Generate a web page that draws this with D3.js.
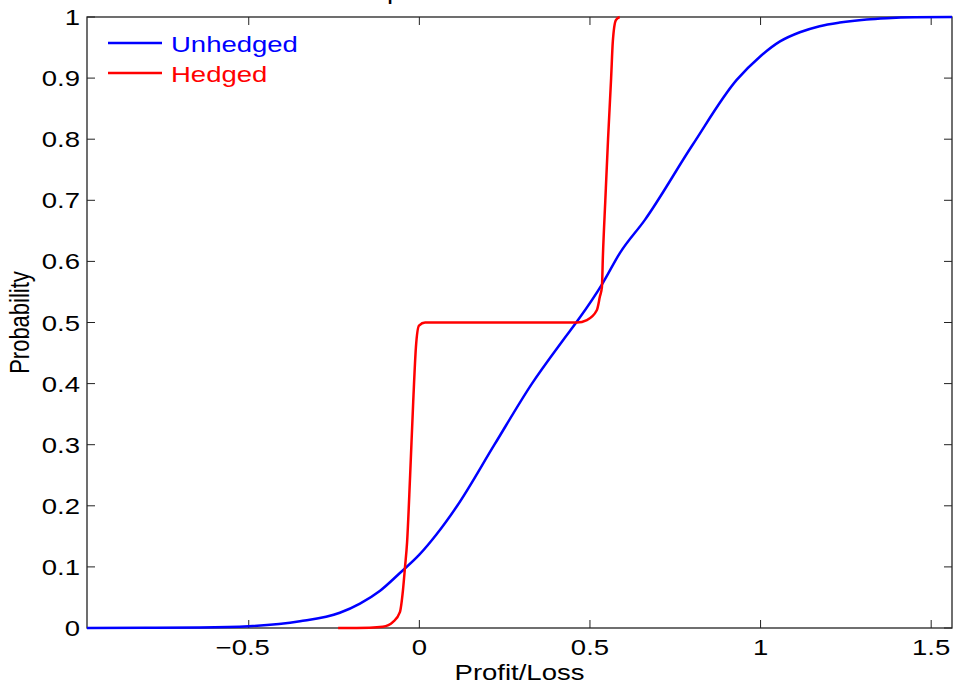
<!DOCTYPE html>
<html>
<head>
<meta charset="utf-8">
<script src="https://cdn.jsdelivr.net/npm/d3@7"></script>
<style>
  body { margin: 0; background: #fff; }
  text { font-family: "Liberation Sans", Arial, Helvetica, sans-serif; }
</style>
</head>
<body>
<script>
var w = 956;
var h = 687;

// data
var unhedgedX = [-0.974, -0.8, -0.643, -0.5, -0.35, -0.233, -0.174, -0.115, -0.057, 0.0, 0.05, 0.111, 0.22, 0.33, 0.421, 0.465, 0.538, 0.588, 0.661, 0.8, 0.93, 0.998, 1.057, 1.115, 1.173, 1.232, 1.311, 1.37, 1.45, 1.561];
var unhedgedP = [0, 0.0005, 0.001, 0.003, 0.011, 0.025, 0.04, 0.061, 0.09, 0.12, 0.153, 0.2, 0.3, 0.4, 0.471, 0.504, 0.565, 0.614, 0.668, 0.79, 0.897, 0.935, 0.96, 0.975, 0.985, 0.991, 0.996, 0.998, 0.9995, 1.0];

var hedgedX = [-0.238, -0.145, -0.107, -0.077, -0.057, -0.048, -0.042, -0.036, -0.027, -0.018, -0.010, -0.001, 0.017, 0.462, 0.491, 0.520, 0.529, 0.535, 0.538, 0.545, 0.553, 0.562, 0.567, 0.576, 0.587];
var hedgedP = [0, 0.0005, 0.002, 0.01, 0.026, 0.062, 0.1, 0.14, 0.25, 0.37, 0.46, 0.495, 0.5, 0.5, 0.504, 0.52, 0.542, 0.558, 0.61, 0.7, 0.8, 0.9, 0.96, 0.995, 1];

var xTicks = [-0.5, 0, 0.5, 1, 1.5];
var yTicks = [0, 0.1, 0.2, 0.3, 0.4, 0.5, 0.6, 0.7, 0.8, 0.9, 1];

var seriesNames = ["Unhedged", "Hedged"];
var seriesColors = ["#0000ff", "#ff0000"];

// plot box (window.top is taken, so own names)
var boxL = 87, boxR = 952, boxT = 17, boxB = 628;
var tickLen = 8;
var fs = 22;       // font size
var sx = 1.25;     // the figure looks stretched sideways, text too

var x = d3.scaleLinear().domain([-0.974, 1.561]).range([boxL, boxR]);
var y = d3.scaleLinear().domain([0, 1]).range([boxB, boxT]);

var svg = d3.select("body").append("svg")
    .attr("width", w)
    .attr("height", h);

svg.append("defs").append("clipPath").attr("id", "plotclip")
    .append("rect")
    .attr("x", boxL).attr("y", boxT - 2)
    .attr("width", boxR - boxL + 1).attr("height", boxB - boxT + 4);

function stretched(px, py) {
    return "translate(" + px + "," + py + ") scale(" + sx + ",1)";
}

// title, mostly cut off at the top edge
svg.append("text")
    .attr("transform", stretched((boxL + boxR) / 2 + 28, -1))
    .attr("text-anchor", "middle")
    .attr("font-size", fs)
    .text("Empirical Cumulative Distribution");

var fmt = function(d) { return d < 0 ? "\u2212" + Math.abs(d) : String(d); };

var axes = svg.append("g").attr("id", "axes");

// matlab style ticks: inside, on all four sides
axes.selectAll("line.xb").data(xTicks).enter().append("line")
    .attr("x1", function(d) { return x(d); }).attr("x2", function(d) { return x(d); })
    .attr("y1", boxB).attr("y2", boxB - tickLen)
    .attr("stroke", "#222").attr("stroke-width", 1);
axes.selectAll("line.xt").data(xTicks).enter().append("line")
    .attr("x1", function(d) { return x(d); }).attr("x2", function(d) { return x(d); })
    .attr("y1", boxT).attr("y2", boxT + tickLen)
    .attr("stroke", "#222").attr("stroke-width", 1);
axes.selectAll("line.yl").data(yTicks).enter().append("line")
    .attr("x1", boxL).attr("x2", boxL + tickLen)
    .attr("y1", function(d) { return y(d); }).attr("y2", function(d) { return y(d); })
    .attr("stroke", "#222").attr("stroke-width", 1);
axes.selectAll("line.yr").data(yTicks).enter().append("line")
    .attr("x1", boxR).attr("x2", boxR - tickLen)
    .attr("y1", function(d) { return y(d); }).attr("y2", function(d) { return y(d); })
    .attr("stroke", "#222").attr("stroke-width", 1);

axes.selectAll("text.xl").data(xTicks).enter().append("text")
    .attr("transform", function(d) { return stretched(x(d) - (d < 0 ? 6 : 0), 655); })
    .attr("text-anchor", "middle")
    .attr("font-size", fs)
    .text(fmt);

axes.selectAll("text.yl").data(yTicks).enter().append("text")
    .attr("transform", function(d) { return stretched(80, y(d) + 8); })
    .attr("text-anchor", "end")
    .attr("font-size", fs)
    .text(fmt);

// box
axes.append("rect")
    .attr("x", boxL).attr("y", boxT)
    .attr("width", boxR - boxL).attr("height", boxB - boxT)
    .attr("fill", "none")
    .attr("stroke", "#222")
    .attr("stroke-width", 1.3);

// axis labels
svg.append("text")
    .attr("transform", stretched((boxL + boxR) / 2, 680))
    .attr("text-anchor", "middle")
    .attr("font-size", fs)
    .text("Profit/Loss");

svg.append("text")
    .attr("transform", stretched(29, (boxT + boxB) / 2) + " rotate(-90)")
    .attr("text-anchor", "middle")
    .attr("font-size", fs)
    .text("Probability");

// curves
var line = d3.line()
    .x(function(d) { return x(d[0]); })
    .y(function(d) { return y(d[1]); })
    .curve(d3.curveMonotoneX);

var series = [
    d3.zip(unhedgedX, unhedgedP),
    d3.zip(hedgedX, hedgedP)
];

svg.append("g").attr("clip-path", "url(#plotclip)")
    .selectAll("path")
    .data(series)
    .enter()
    .append("path")
    .attr("d", line)
    .attr("fill", "none")
    .attr("stroke", function(d, i) { return seriesColors[i]; })
    .attr("stroke-width", 2.5)
    .attr("stroke-linejoin", "round");

// legend
var legend = svg.append("g").attr("id", "legend");
var legendRows = legend.selectAll("g")
    .data(seriesNames)
    .enter()
    .append("g")
    .attr("transform", function(d, i) { return "translate(108," + (43 + i * 30) + ")"; });

legendRows.append("line")
    .attr("x1", 0).attr("x2", 54)
    .attr("y1", 0).attr("y2", 0)
    .attr("stroke", function(d, i) { return seriesColors[i]; })
    .attr("stroke-width", 2.5);

legendRows.append("text")
    .attr("transform", stretched(63, 9))
    .attr("font-size", fs)
    .attr("fill", function(d, i) { return seriesColors[i]; })
    .text(function(d) { return d; });
</script>
</body>
</html>
